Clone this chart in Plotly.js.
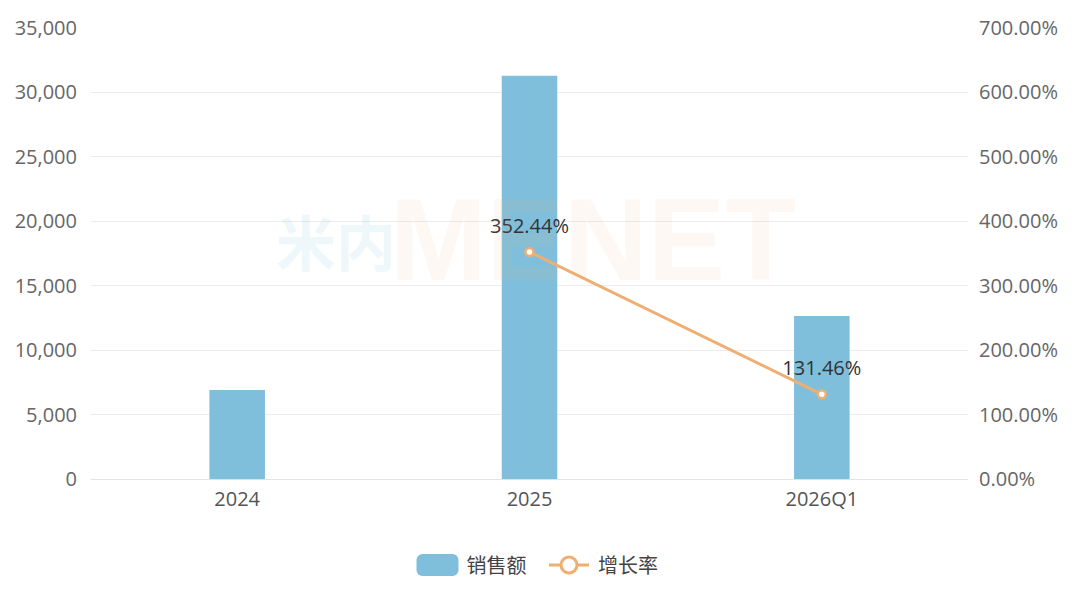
<!DOCTYPE html>
<html>
<head>
<meta charset="utf-8">
<script src="https://cdn.plot.ly/plotly-3.0.1.min.js"></script>
<style>html,body{margin:0;padding:0;background:#fff;}#chart{width:1080px;height:589px;}</style>
</head>
<body>
<div id="chart"></div>
<script>
var categories = ['2024', '2025', '2026Q1'];
var sales = [6900, 31300, 12650];
var growth = [null, 352.44, 131.46];
var seriesNames = ['销售额', '增长率'];

var fontFam = '"Open Sans", "Noto Sans CJK SC", sans-serif';

var traces = [
  {
    type: 'bar', name: seriesNames[0], x: categories, y: sales,
    marker: {color: '#7fbfdb'}, yaxis: 'y', hoverinfo: 'x+y'
  },
  {
    type: 'scatter', mode: 'lines+markers+text', name: seriesNames[1],
    x: categories, y: growth, yaxis: 'y2',
    line: {color: '#efae72', width: 3},
    marker: {symbol: 'circle', size: 8, color: '#ffffff', line: {color: '#efae72', width: 2.5}},
    text: growth.map(function(v){ return v === null ? '' : v.toFixed(2) + '%'; }),
    textposition: 'top center',
    textfont: {size: 20, color: '#333333', family: fontFam},
    cliponaxis: false
  }
];

var layout = {
  width: 1080, height: 589,
  margin: {l: 91, r: 112, t: 28, b: 110, autoexpand: false},
  paper_bgcolor: '#ffffff', plot_bgcolor: '#ffffff',
  font: {family: fontFam, color: '#666666', size: 20},
  bargap: 0.81,
  showlegend: true,
  legend: {orientation: 'h', x: 0.5, xanchor: 'center', y: -0.19, yanchor: 'middle',
           font: {size: 20, color: '#444444'}, itemwidth: 40, traceorder: 'normal'},
  xaxis: {
    type: 'category', showgrid: false, showline: true, linecolor: '#e3e3e3', linewidth: 1,
    ticks: '', tickfont: {size: 20, color: '#555555'}, zeroline: false, ticklabelstandoff: 2
  },
  yaxis: {
    range: [0, 35000], dtick: 5000, tickformat: ',d', showgrid: true, gridcolor: '#ececec',
    zeroline: false, showline: false, ticks: '', tickfont: {size: 20, color: '#666666'}, ticklabelstandoff: 13
  },
  yaxis2: {
    range: [0, 700], dtick: 100, overlaying: 'y', side: 'right', tickformat: '.2f', ticksuffix: '%',
    showgrid: false, zeroline: false, showline: false, ticks: '', tickfont: {size: 20, color: '#666666'}, ticklabelstandoff: 10
  },
  annotations: [
    {xref: 'paper', yref: 'paper', x: 0.279, y: 0.53, xanchor: 'center', yanchor: 'middle',
     text: '<b>米内</b>', showarrow: false, font: {size: 60, color: 'rgba(127,191,219,0.13)', family: '"Noto Sans CJK SC", sans-serif'}},
    {xref: 'paper', yref: 'paper', x: 0.572, y: 0.53, xanchor: 'center', yanchor: 'middle',
     text: '<b>MENET</b>', showarrow: false, font: {size: 116, color: 'rgba(240,160,110,0.08)', family: '"Liberation Sans", sans-serif'}}
  ]
};

function parseTranslate(el) {
  var t = el.getAttribute('transform') || '';
  var m = t.match(/translate\(\s*([-\d.]+)[ ,]*([-\d.]*)\s*\)/);
  return m ? [parseFloat(m[1]), parseFloat(m[2] || 0)] : [0, 0];
}

Plotly.newPlot('chart', traces, layout, {displayModeBar: false, staticPlot: true}).then(function(gd){
  // place data labels about 26px above their markers (as in the reference)
  var ya2 = gd._fullLayout.yaxis2;
  gd.querySelectorAll('.scatterlayer .textpoint text').forEach(function(t){
    var v = parseFloat(t.textContent);
    if (isNaN(v)) return;
    var py = ya2.l2p(v);
    var ny = py - 8;
    t.setAttribute('y', ny);
    t.querySelectorAll('tspan').forEach(function(ts){ if (ts.getAttribute('y')) ts.setAttribute('y', ny); });
  });

  var sb = gd.querySelector('.legend .scrollbox');
  if (sb) sb.removeAttribute('clip-path');
  var items = gd.querySelectorAll('.legend .traces');
  var targets = [437.5, 569];
  items.forEach(function(tr, i){
    var lp = tr.querySelector('.legendpoints');
    var sym;
    if (i === 0) {
      sym = lp.querySelector('path');
      if (sym) {
        sym.setAttribute('d', 'M-15,-11H15A6,6 0 0 1 21,-5V5A6,6 0 0 1 15,11H-15A6,6 0 0 1 -21,5V-5A6,6 0 0 1 -15,-11Z');
        sym.style.strokeWidth = '0px';
      }
    } else {
      var ln = lp.querySelector('path.js-line');
      if (ln) ln.setAttribute('d', 'M0,0h40');
      var mk = lp.querySelector('path.scatterpts');
      if (mk) {
        mk.setAttribute('d', 'M8,0A8,8 0 1,1 0,-8A8,8 0 0,1 8,0Z');
        mk.style.strokeWidth = '3px';
      }
      sym = ln || mk;
    }
    var txt = tr.querySelector('text.legendtext');
    var bb = lp.getBBox();
    var cx = bb.x + bb.width / 2;
    if (txt) txt.setAttribute('x', cx + 29);
    if (sym) {
      var r = sym.getBoundingClientRect();
      var cur = r.left + r.width / 2;
      var curY = r.top + r.height / 2;
      var tt = parseTranslate(tr);
      tr.setAttribute('transform', 'translate(' + (tt[0] + targets[i] - cur) + ',' + (tt[1] + 565 - curY) + ')');
    }
  });
});
</script>
</body>
</html>
